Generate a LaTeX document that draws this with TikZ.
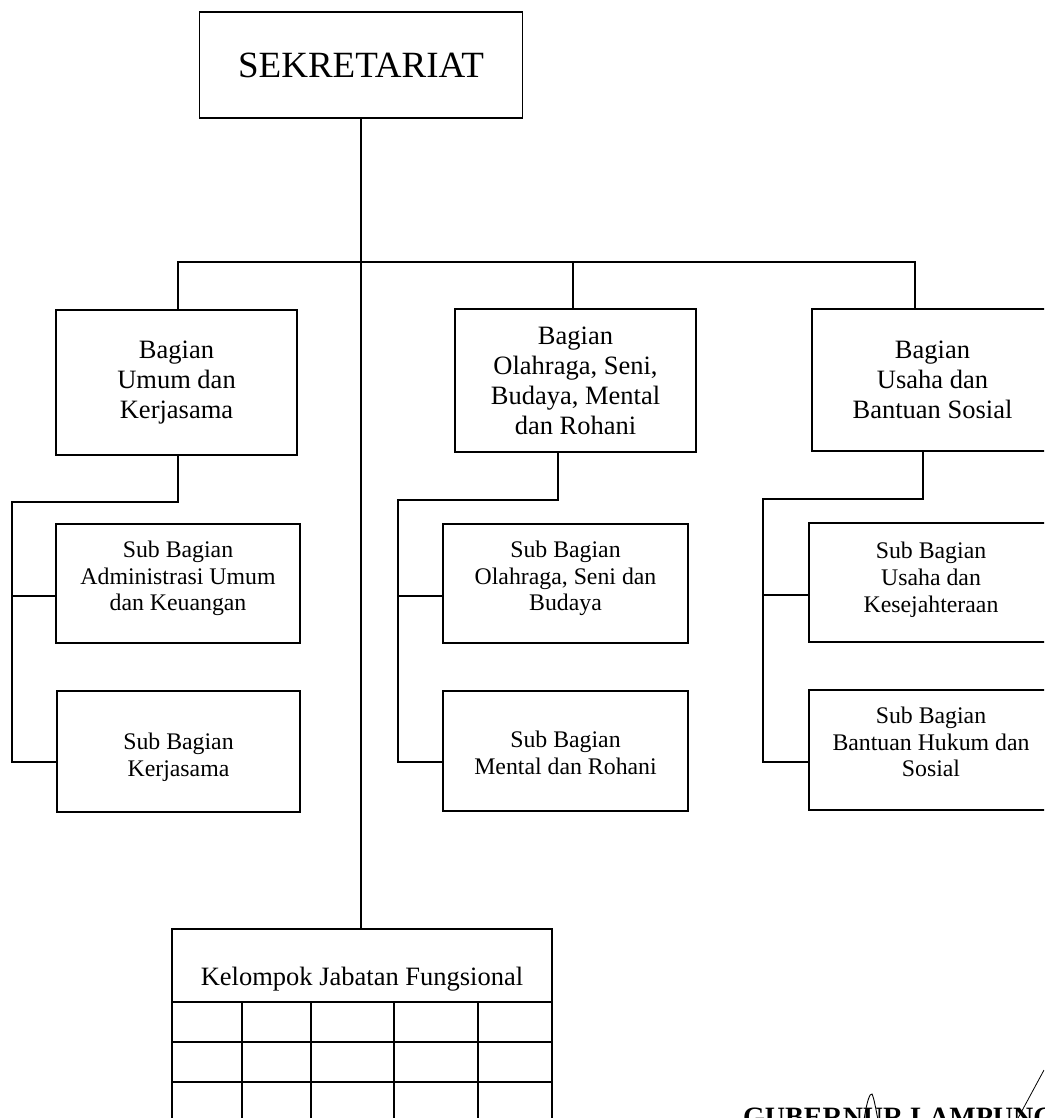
\documentclass[tikz,border=0pt]{standalone}
\usepackage{fontspec}
\setmainfont{Liberation Serif}
\begin{document}
\begin{tikzpicture}[x=1pt,y=-1pt,
  box/.style={draw, line width=1.5pt, inner sep=0pt, outer sep=0pt},
  txt/.style={inner sep=0pt, align=center},
  conn/.style={line width=1.4pt},
  bigf/.style={font=\fontsize{37}{40}\selectfont},
  midf/.style={font=\fontsize{26.5}{30}\selectfont},
  smallf/.style={font=\fontsize{23.8}{26.8}\selectfont}]
\useasboundingbox (0,0) rectangle (1044,1118);
\clip (0,0) rectangle (1044,1118);
\fill[white] (0,0) rectangle (1044,1118);

% top box
\node[box, minimum width=323, minimum height=106] (sek) at (361,65) {};
\node[txt, bigf] (sekt) at (sek.center) {SEKRETARIAT};

% Bagian boxes
\node[box, minimum width=241, minimum height=145] (bu) at (176.5,382.5) {};
\node[txt, midf] (but) at (bu.center) {Bagian\\Umum dan\\Kerjasama};
\node[box, minimum width=241, minimum height=143] (bo) at (575.5,380.5) {};
\node[txt, midf] (bot) at (bo.center) {Bagian\\Olahraga, Seni,\\Budaya, Mental\\dan Rohani};
\node[box, minimum width=241, minimum height=142] (bs) at (932.5,380) {};
\node[txt, midf] (bst) at (bs.center) {Bagian\\Usaha dan\\Bantuan Sosial};

% Sub Bagian boxes
\node[box, minimum width=244, minimum height=119] (sa1) at (178,583.5) {};
\node[txt, smallf] (sa1t) at ([yshift=5pt]sa1.center) {Sub Bagian\\Administrasi Umum\\dan Keuangan};
\node[box, minimum width=243, minimum height=121] (sa2) at (178.5,751.5) {};
\node[txt, smallf] (sa2t) at ([yshift=-6pt]sa2.center) {Sub Bagian\\Kerjasama};
\node[box, minimum width=245, minimum height=119] (so1) at (565.5,583.5) {};
\node[txt, smallf] (so1t) at ([yshift=5pt]so1.center) {Sub Bagian\\Olahraga, Seni dan\\Budaya};
\node[box, minimum width=245, minimum height=120] (so2) at (565.5,751) {};
\node[txt, smallf] (so2t) at ([yshift=-2pt]so2.center) {Sub Bagian\\Mental dan Rohani};
\node[box, minimum width=244, minimum height=119] (ss1) at (931,582.5) {};
\node[txt, smallf] (ss1t) at ([yshift=3pt]ss1.center) {Sub Bagian\\Usaha dan\\Kesejahteraan};
\node[box, minimum width=244, minimum height=120] (ss2) at (931,750) {};
\node[txt, smallf] (ss2t) at ([yshift=8pt]ss2.center) {Sub Bagian\\Bantuan Hukum dan\\Sosial};

% Kelompok Jabatan Fungsional table
\node[box, minimum width=380, minimum height=200] (kjf) at (362,1029) {};
\node[midf, anchor=base, inner sep=0pt] (kjft) at (362,985) {Kelompok Jabatan Fungsional};
\draw[conn] (172,1002) -- (552,1002);
\draw[conn] (172,1042) -- (552,1042);
\draw[conn] (172,1082) -- (552,1082);
\draw[conn] (172,1122) -- (552,1122);
\foreach \cx in {242,311,394,478} \draw[conn] (\cx,1002) -- (\cx,1130);

% main connectors
\draw[conn] (sek.south) -- (sek.south |- kjf.north);
\coordinate (h1) at (178,262);
\coordinate (h2) at (915,262);
\coordinate (hm) at (573,262);
\draw[conn] (bu.north -| h1) -- (h1) -- (h2) -- (bs.north -| h2);
\draw[conn] (hm) -- (bo.north -| hm);

% left group
\coordinate (ld) at (178,502);
\coordinate (lb) at (12,502);
\coordinate (la1) at (12,596);
\coordinate (la2) at (12,762);
\draw[conn] (bu.south -| ld) -- (ld) -- (lb) -- (la2) -- (sa2.west |- la2);
\draw[conn] (la1) -- (sa1.west |- la1);

% middle group
\coordinate (md) at (558,500);
\coordinate (mb) at (398,500);
\coordinate (ma1) at (398,596);
\coordinate (ma2) at (398,762);
\draw[conn] (bo.south -| md) -- (md) -- (mb) -- (ma2) -- (so2.west |- ma2);
\draw[conn] (ma1) -- (so1.west |- ma1);

% right group
\coordinate (rd) at (923,499);
\coordinate (rb) at (763,499);
\coordinate (ra1) at (763,595);
\coordinate (ra2) at (763,762);
\draw[conn] (bs.south -| rd) -- (rd) -- (rb) -- (ra2) -- (ss2.west |- ra2);
\draw[conn] (ra1) -- (ss1.west |- ra1);

% signature block (cut at bottom edge, as in the original scan)
\node[font=\fontsize{28}{30}\selectfont\bfseries, anchor=base west, inner sep=0pt] (gub) at (743,1126) {GUBERNUR LAMPUNG};
\draw[line width=0.9pt] (864,1120) .. controls (867,1100) and (870,1093) .. (872,1094) .. controls (874,1098) and (876,1110) .. (878,1120);
\draw[line width=0.8pt] (1017,1120) -- (1044,1070);
\end{tikzpicture}
\end{document}
